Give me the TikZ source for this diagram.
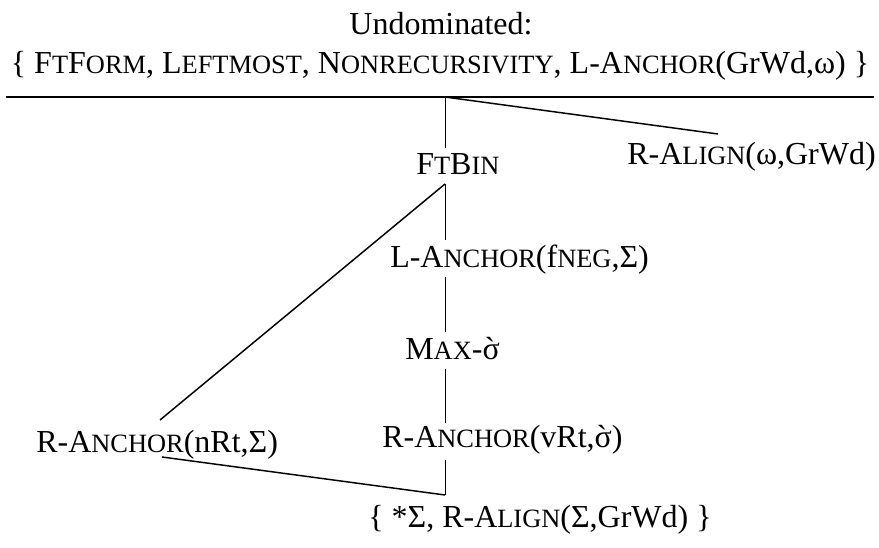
\documentclass[tikz,border=0pt]{standalone}
\usepackage{fontspec}
\setmainfont{Liberation Serif}
\newcommand\smc[1]{{\fontsize{19.8pt}{21pt}\selectfont #1}}
\newcommand\sgr{{\ooalign{σ\cr\hidewidth\kern-0.08em\char"02CB\hidewidth\cr}}}
\begin{document}
\begin{tikzpicture}[x=0.75pt,y=-0.75pt,
  lbl/.style={inner sep=0pt, font=\fontsize{24pt}{28pt}\selectfont},
  thinline/.style={line width=0.75pt},
  diag/.style={line width=1.1pt},
  rule/.style={line width=1.5pt}]
\useasboundingbox (0,0) rectangle (879,548);
\node[lbl, anchor=base] (undom) at (441,35) {Undominated:};
\node[lbl, anchor=base] (set) at (440,74) {\{ F\smc{T}F\smc{ORM}, L\smc{EFTMOST}, N\smc{ONRECURSIVITY}, L-A\smc{NCHOR}(GrWd,ω) \}};
\node[lbl, anchor=base west] (ralign) at (627,165) {R-A\smc{LIGN}(ω,GrWd)};
\node[lbl, anchor=base west] (ftbin) at (416,175) {F\smc{T}B\smc{IN}};
\node[lbl, anchor=base west] (lanchor) at (390,268) {L-A\smc{NCHOR}(f\smc{NEG},Σ)};
\node[lbl, anchor=base west] (max) at (405,360) {M\smc{AX}-\sgr};
\node[lbl, anchor=base west] (rav) at (382,448) {R-A\smc{NCHOR}(vRt,\sgr)};
\node[lbl, anchor=base west] (ran) at (36,453) {R-A\smc{NCHOR}(nRt,Σ)};
\node[lbl, anchor=base west] (final) at (368,528) {\{ *Σ, R-A\smc{LIGN}(Σ,GrWd) \}};
\coordinate (hl) at (6,97);
\coordinate (hr) at (874,97);
\coordinate (top) at (445,97);
\coordinate (ftT) at (445,148);
\coordinate (ftB) at (445,184);
\coordinate (raT) at (718,134);
\coordinate (laT) at (445,240);
\coordinate (laB) at (445,277);
\coordinate (mxT) at (445,332);
\coordinate (mxB) at (445,369);
\coordinate (rvT) at (445,423);
\coordinate (rvB) at (445,460);
\coordinate (rnT) at (160,420);
\coordinate (rnB) at (162,457);
\coordinate (fnT) at (445,495);
\draw[rule] (hl) -- (hr);
\draw[thinline] (top) -- (ftT);
\draw[diag] (top) -- (raT);
\draw[thinline] (ftB) -- (laT);
\draw[diag] (ftB) -- (rnT);
\draw[thinline] (laB) -- (mxT);
\draw[thinline] (mxB) -- (rvT);
\draw[thinline] (rvB) -- (fnT);
\draw[diag] (rnB) -- (fnT);
\end{tikzpicture}
\end{document}
